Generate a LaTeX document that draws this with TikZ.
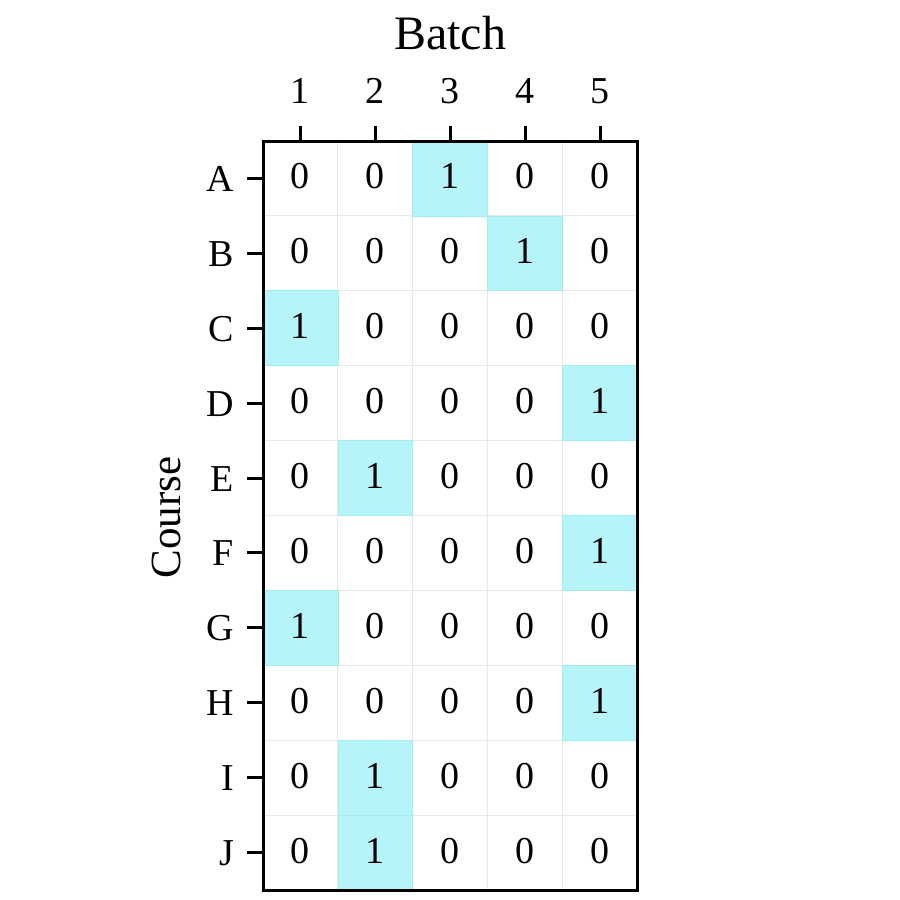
\documentclass[tikz,border=0pt]{standalone}
\usepackage{fontspec}
\setmainfont{Liberation Serif}
\definecolor{hl}{HTML}{B5F5FA}
\definecolor{hledge}{HTML}{A6EDF2}
\definecolor{gridc}{HTML}{E8E8E8}
\begin{document}
\begin{tikzpicture}[x=1pt,y=-1pt,
  numtext/.style={inner sep=0pt,font=\fontsize{38}{38}\selectfont},
  ticklab/.style={inner sep=0pt,font=\fontsize{38}{38}\selectfont},
  axtitle/.style={inner sep=0pt,font=\fontsize{48}{48}\selectfont},
  ytitle/.style={inner sep=0pt,font=\fontsize{43}{43}\selectfont},
  frameline/.style={line width=3pt},
  tickline/.style={line width=3pt},
  gridline/.style={gridc,line width=1pt},
  hlcell/.style={fill=hl,draw=hledge,line width=0.8pt}]
\useasboundingbox (0,0) rectangle (900,900);
\def\xa{263}\def\ya{141}\def\cw{74.9}\def\rh{74.9}
% grid
\foreach \j in {1,...,4} \draw[gridline] (\xa+\j*\cw,\ya) -- (\xa+\j*\cw,\ya+10*\rh);
\foreach \i in {1,...,9} \draw[gridline] (\xa,\ya+\i*\rh) -- (\xa+5*\cw,\ya+\i*\rh);
% cells
\foreach \lab/\vals [count=\i from 0] in {A/{0,0,1,0,0},B/{0,0,0,1,0},C/{1,0,0,0,0},D/{0,0,0,0,1},E/{0,1,0,0,0},F/{0,0,0,0,1},G/{1,0,0,0,0},H/{0,0,0,0,1},I/{0,1,0,0,0},J/{0,1,0,0,0}}{
  \foreach \v [count=\j from 0] in \vals {
    \ifnum\v=1
      \path[hlcell] (\xa+\j*\cw,\ya+\i*\rh) rectangle (\xa+\j*\cw+\cw,\ya+\i*\rh+\rh);
    \fi
    \node[numtext] (c-\lab-\j) at (\xa+\j*\cw+0.5*\cw,\ya+\i*\rh+0.5*\rh-2) {\v};
  }
  \draw[tickline] (\xa-16,\ya+\i*\rh+0.5*\rh) -- (\xa,\ya+\i*\rh+0.5*\rh);
  \node[ticklab,anchor=base east] (r-\lab) at (\xa-29,\ya+\i*\rh+0.5*\rh+13) {\lab};
}
% column ticks
\foreach \j [count=\k] in {0,...,4}{
  \draw[tickline] (\xa+\j*\cw+0.5*\cw,\ya-15) -- (\xa+\j*\cw+0.5*\cw,\ya);
  \node[ticklab,anchor=base] (t-\k) at (\xa+\j*\cw+0.5*\cw,103) {\k};
}
% frame
\draw[frameline] (\xa,\ya) rectangle (\xa+5*\cw,\ya+10*\rh);
% titles
\node[axtitle,anchor=base] (batch) at (\xa+2.5*\cw,49) {Batch};
\node[ytitle,anchor=base,rotate=90] (course) at (180,\ya+5*\rh+2) {Course};
\end{tikzpicture}
\end{document}
